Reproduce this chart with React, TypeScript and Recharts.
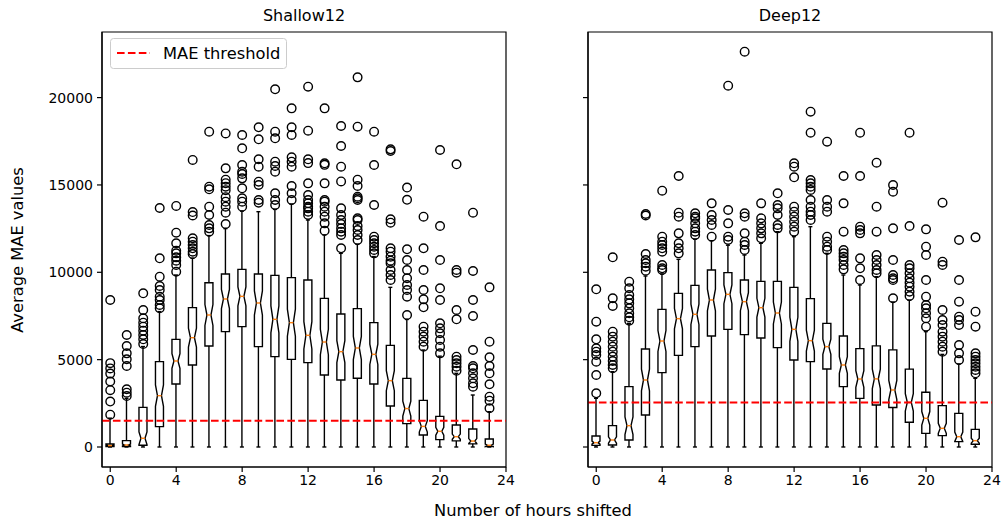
import React from "react";
import { ComposedChart, Bar, Scatter, XAxis, YAxis, ReferenceLine, ReferenceArea } from "recharts";

const HOURS = [0, 1, 2, 3, 4, 5, 6, 7, 8, 9, 10, 11, 12, 13, 14, 15, 16, 17, 18, 19, 20, 21, 22, 23];
const X_TICKS = [0, 4, 8, 12, 16, 20, 24];
const X_DOMAIN: [number, number] = [-0.5, 24];
const Y_TICKS = [0, 5000, 10000, 15000, 20000];
const Y_DOMAIN: [number, number] = [-1145, 23755];

// Shallow12 box statistics per hour shifted
const SHALLOW_LOW = [0, 0, 0, 0, 0, 0, 0, 0, 0, 0, 0, 0, 0, 0, 0, 0, 0, 0, 0, 0, 0, 0, 0, 0];
const SHALLOW_Q1 = [20, 30, 100, 1164, 3606, 4694, 5781, 6602, 6888, 5743, 5171, 5018, 4827, 4121, 3835, 3931, 3606, 2347, 1340, 687, 420, 350, 180, 30];
const SHALLOW_MED = [80, 114, 500, 2938, 4923, 6258, 7556, 8472, 8624, 8243, 7308, 7117, 6392, 6010, 5457, 5667, 5304, 3797, 2200, 1180, 900, 590, 340, 100];
const SHALLOW_Q3 = [170, 363, 2270, 4884, 6163, 7975, 9406, 9903, 10170, 9903, 9826, 9693, 9559, 8510, 7613, 7918, 7117, 5819, 3930, 2670, 1750, 1259, 1030, 460];
const SHALLOW_HIGH = [1650, 2786, 5750, 7750, 9845, 10800, 12100, 12500, 13500, 13470, 13600, 13900, 12993, 12135, 11085, 11600, 10900, 9139, 7300, 5552, 5200, 4217, 2976, 2022];
const SHALLOW_FLIERS: number[][] = [
  [8414, 4800, 4500, 4200, 3750, 3250, 2600, 1850],
  [6411, 5781, 5361, 5018, 4636, 3301, 3110, 2919],
  [8796, 7842, 7365, 7117, 6888, 6659, 6411, 6163, 5896],
  [13680, 10800, 9750, 9216, 8987, 8605, 8414, 8128, 7937],
  [13800, 12268, 11658, 11238, 11085, 10856, 10666, 10418, 10036],
  [16430, 13450, 13250, 11944, 11753, 11562, 11372, 11181, 11047],
  [18050, 14900, 14750, 13757, 13280, 12707, 12516, 12325],
  [17950, 15950, 15300, 15100, 14900, 14700, 14300, 14043, 13757, 13413, 12764],
  [17859, 17096, 16142, 15760, 15627, 15378, 14806, 14234, 14043, 13757],
  [18298, 17611, 16466, 16046, 15188, 14997, 14138, 13985],
  [20473, 18050, 17668, 16332, 16084, 15760, 14520, 14138, 13852],
  [19385, 18298, 17859, 16580, 16332, 16046, 14939, 14520, 14138],
  [20625, 18107, 16466, 16250, 15092, 14424, 14138, 13947, 13757, 13661, 13470, 13280],
  [19385, 16237, 16150, 15092, 14138, 14043, 13757, 13470, 13184, 12802, 12383],
  [18374, 17229, 16046, 15200, 13661, 13280, 12993, 12764, 12516, 12325, 12135, 11372],
  [21159, 18336, 15300, 14939, 14329, 14234, 14138, 13089, 12993, 12650, 12421, 12135, 11849],
  [18050, 16142, 13852, 12039, 11849, 11658, 11467, 11276, 11085],
  [17038, 16943, 13032, 12841, 11372, 11181, 10895, 10666, 10513, 10131, 9845, 9559],
  [14850, 14150, 11315, 10704, 10131, 9655, 9273, 8987, 8605, 7556],
  [13184, 11372, 10131, 8987, 8452, 7995, 6888, 6602, 6316, 6029, 5743],
  [17000, 12650, 10704, 9082, 8414, 7079, 6792, 6506, 6125, 5743, 5361],
  [16180, 10131, 9979, 7842, 7308, 5170, 4980, 4789, 4598, 4369],
  [13413, 10074, 8414, 7498, 5552, 4636, 4503, 4217, 3931, 3644, 3453],
  [9139, 6029, 5132, 4636, 4217, 3587, 2881, 2652, 2213],
];
const SHALLOW_THRESHOLD = 1500;

// Deep12 box statistics per hour shifted
const DEEP_LOW = [0, 0, 0, 0, 0, 0, 0, 0, 0, 0, 0, 0, 0, 0, 0, 0, 0, 0, 0, 0, 0, 0, 0, 0];
const DEEP_Q1 = [95, 114, 401, 1832, 4255, 5247, 5743, 6354, 6735, 6430, 6239, 5686, 4980, 4884, 4465, 3453, 2786, 2404, 2260, 1420, 782, 649, 305, 153];
const DEEP_MED = [248, 401, 1221, 3835, 6067, 7346, 7594, 8414, 8738, 8319, 7975, 7670, 6735, 6087, 5743, 4694, 3892, 3900, 3263, 2557, 1641, 1068, 591, 363];
const DEEP_Q3 = [630, 1221, 3453, 5610, 7880, 8796, 9254, 10131, 9979, 9559, 9483, 9483, 9139, 8491, 7079, 6354, 5629, 5790, 5560, 4455, 3130, 2366, 1927, 1011];
const DEEP_HIGH = [2786, 4312, 7079, 9788, 9903, 10742, 11900, 11810, 11550, 10990, 11658, 12325, 12039, 12612, 11085, 9845, 9273, 9750, 8300, 8400, 6602, 5300, 4750, 3930];
const DEEP_FLIERS: number[][] = [
  [9025, 7174, 6163, 5648, 5457, 5266, 4884, 4121, 3072],
  [10857, 8510, 8071, 6602, 6316, 6029, 5743, 5457, 5171, 4923, 4694, 4503],
  [9464, 9082, 8700, 8452, 8223, 7937, 7651, 7422, 7231],
  [13337, 13250, 11047, 10704, 10513, 10322, 10093],
  [14672, 12039, 11753, 11562, 11372, 11181, 10418, 10227, 10131],
  [15512, 13413, 13184, 12230, 11658, 11372, 11085],
  [13375, 13184, 13089, 12802, 12516, 12325, 12135],
  [13947, 13280, 12993, 12707, 12039],
  [20683, 13566, 12802, 12039, 11849],
  [22629, 13375, 13184, 12230, 11753, 11562, 11276],
  [13947, 13089, 12802, 12516, 12230, 11944],
  [14520, 13852, 13661, 13280, 12707, 12516],
  [16237, 16046, 15436, 13757, 13470, 13184, 12898, 12612, 12325],
  [19194, 17992, 15283, 15092, 14901, 14710, 14138, 13757, 13470, 13280, 12993],
  [17477, 14138, 13757, 13470, 12039, 11753, 11467, 11276],
  [15512, 13947, 12325, 11276, 11085, 10895, 10704, 10418, 10169],
  [17992, 15512, 12612, 12421, 12230, 10799, 10227, 9559],
  [16275, 13757, 12325, 10990, 10704, 10418, 10131, 9941],
  [14997, 14615, 12516, 10704, 9845, 9655, 9559, 8510],
  [17992, 12650, 10418, 10227, 9941, 9655, 9407, 9177, 8891, 8643],
  [12459, 11467, 10990, 9559, 8605, 8128, 7937, 7651, 7365, 6888],
  [13985, 10608, 10418, 7842, 7269, 6983, 6602, 6316, 6029, 5743, 5457],
  [11849, 9559, 8319, 7460, 7269, 6983, 5838, 5361, 4980],
  [12001, 7746, 6888, 5361, 5171, 4980, 4789, 4598, 4407, 4217],
];
const DEEP_THRESHOLD = 2550;

// notch half-height follows matplotlib: 1.57 * IQR / sqrt(n)
const SAMPLES = 90;

const FONT = "'DejaVu Sans', sans-serif";
const ORANGE = "#ff7f0e";
const LINE_W = 1.4;

type BoxRow = { hour: number; whisker: [number, number]; q1: number; med: number; q3: number };
type Flier = { hour: number; value: number };

const buildRows = (lo: number[], q1: number[], med: number[], q3: number[], hi: number[]): BoxRow[] =>
  HOURS.map((hour, i) => ({ hour, whisker: [lo[i], hi[i]], q1: q1[i], med: med[i], q3: q3[i] }));

const buildFliers = (fliers: number[][]): Flier[] =>
  fliers.flatMap((vals, i) => vals.map((value) => ({ hour: HOURS[i], value })));

const shallowRows = buildRows(SHALLOW_LOW, SHALLOW_Q1, SHALLOW_MED, SHALLOW_Q3, SHALLOW_HIGH);
const deepRows = buildRows(DEEP_LOW, DEEP_Q1, DEEP_MED, DEEP_Q3, DEEP_HIGH);
const shallowFliers = buildFliers(SHALLOW_FLIERS);
const deepFliers = buildFliers(DEEP_FLIERS);

// The bar spans the whisker range, so its rectangle gives the pixel scale
// for drawing quartiles, notch and median inside it.
const NotchedBox = (props: any) => {
  const { x, y, width, height, payload } = props;
  if (!payload || !height) return null;
  const [lo, hi] = payload.whisker as [number, number];
  const top = Math.min(y, y + height);
  const k = Math.abs(height) / (hi - lo);
  const py = (v: number) => top + (hi - v) * k;
  const notch = (1.57 * (payload.q3 - payload.q1)) / Math.sqrt(SAMPLES);
  const l = x;
  const r = x + width;
  const cx = x + width / 2;
  const inset = width / 4;
  const yq1 = py(payload.q1);
  const yq3 = py(payload.q3);
  const ym = py(payload.med);
  const ynl = py(payload.med - notch);
  const ynh = py(payload.med + notch);
  const d =
    `M${l},${yq1}L${l},${ynl}L${l + inset},${ym}L${l},${ynh}L${l},${yq3}` +
    `L${r},${yq3}L${r},${ynh}L${r - inset},${ym}L${r},${ynl}L${r},${yq1}Z`;
  return (
    <g>
      <line x1={cx} x2={cx} y1={yq1} y2={py(lo)} stroke="#000" strokeWidth={LINE_W} />
      <line x1={cx} x2={cx} y1={yq3} y2={py(hi)} stroke="#000" strokeWidth={LINE_W} />
      <line x1={cx - inset} x2={cx + inset} y1={py(lo)} y2={py(lo)} stroke="#000" strokeWidth={LINE_W} />
      <line x1={cx - inset} x2={cx + inset} y1={py(hi)} y2={py(hi)} stroke="#000" strokeWidth={LINE_W} />
      <path d={d} fill="none" stroke="#000" strokeWidth={LINE_W} strokeLinejoin="miter" />
      <line x1={l + inset} x2={r - inset} y1={ym} y2={ym} stroke={ORANGE} strokeWidth={LINE_W} />
    </g>
  );
};

const FlierMark = (props: any) => (
  <circle cx={props.cx} cy={props.cy} r={4.3} fill="none" stroke="#000" strokeWidth={1.4} />
);

const AXIS = { stroke: "#000", strokeWidth: 1.2 };
const TICK = { fill: "#000", fontSize: 14, fontFamily: FONT };

interface PanelProps {
  rows: BoxRow[];
  fliers: Flier[];
  threshold: number;
  width: number;
  margin: { top: number; right: number; bottom: number; left: number };
  yLabels: boolean;
}

const Panel: React.FC<PanelProps> = ({ rows, fliers, threshold, width, margin, yLabels }) => (
  <ComposedChart width={width} height={524} data={rows} margin={margin}>
    <XAxis
      type="number"
      dataKey="hour"
      domain={X_DOMAIN}
      ticks={X_TICKS}
      interval={0}
      allowDataOverflow
      height={30}
      tickSize={5}
      tickMargin={3}
      axisLine={AXIS}
      tickLine={AXIS}
      tick={TICK}
    />
    <YAxis
      type="number"
      domain={Y_DOMAIN}
      ticks={Y_TICKS}
      interval={0}
      allowDataOverflow
      width={60}
      tickSize={5}
      tickMargin={4}
      axisLine={AXIS}
      tickLine={AXIS}
      tick={TICK}
      tickFormatter={yLabels ? (v: number) => String(v) : () => ""}
    />
    <Bar dataKey="whisker" barSize={8} shape={NotchedBox} isAnimationActive={false} />
    <Scatter data={fliers} dataKey="value" shape={FlierMark} isAnimationActive={false} />
    <ReferenceLine y={threshold} stroke="#ff0000" strokeWidth={2} strokeDasharray="7.6 3.3" ifOverflow="visible" />
    {/* axes frame on all four sides */}
    <ReferenceArea
      x1={X_DOMAIN[0]}
      x2={X_DOMAIN[1]}
      y1={Y_DOMAIN[0]}
      y2={Y_DOMAIN[1]}
      fill="none"
      fillOpacity={0}
      stroke="#000"
      strokeWidth={1.2}
      ifOverflow="visible"
    />
  </ComposedChart>
);

export default function App() {
  return (
    <div style={{ position: "absolute", left: 0, top: 0, width: 1006, height: 524, background: "#fff" }}>
      <div style={{ position: "absolute", left: 0, top: 0 }}>
        <Panel
          rows={shallowRows}
          fliers={shallowFliers}
          threshold={SHALLOW_THRESHOLD}
          width={520}
          margin={{ top: 32, right: 14, bottom: 27, left: 42 }}
          yLabels
        />
      </div>
      <div style={{ position: "absolute", left: 520, top: 0 }}>
        <Panel
          rows={deepRows}
          fliers={deepFliers}
          threshold={DEEP_THRESHOLD}
          width={486}
          margin={{ top: 32, right: 14, bottom: 27, left: 8 }}
          yLabels={false}
        />
      </div>
      <svg
        width={1006}
        height={524}
        style={{ position: "absolute", left: 0, top: 0, pointerEvents: "none" }}
        fontFamily={FONT}
      >
        <text x={304} y={21} textAnchor="middle" fontSize={16} fill="#000">Shallow12</text>
        <text x={790} y={21} textAnchor="middle" fontSize={16} fill="#000">Deep12</text>
        <text x={533} y={516} textAnchor="middle" fontSize={16.3} fill="#000">Number of hours shifted</text>
        <text x={23} y={250} textAnchor="middle" fontSize={16.3} fill="#000" transform="rotate(-90 23 250)">
          Average MAE values
        </text>
        <rect x={110.5} y={38.5} width={176} height={30} rx={3} fill="#fff" fillOpacity={0.8} stroke="#cccccc" />
        <line x1={117} x2={150} y1={53} y2={53} stroke="#ff0000" strokeWidth={2} strokeDasharray="7.6 3.3" />
        <text x={163} y={59} fontSize={16.3} fill="#000">MAE threshold</text>
      </svg>
    </div>
  );
}
